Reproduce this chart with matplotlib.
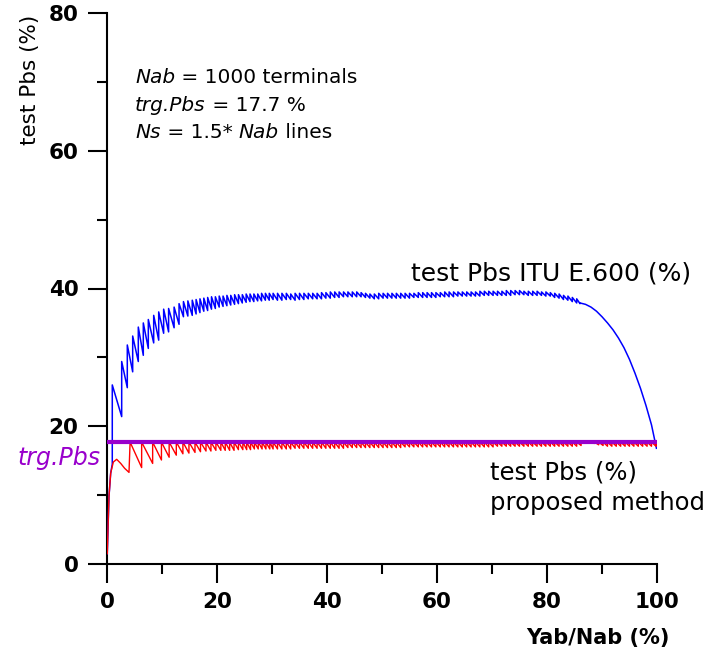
import matplotlib
matplotlib.use("Agg")
import matplotlib.pyplot as plt
from matplotlib.ticker import MultipleLocator

# ---------------- data ----------------
target_pbs = 17.7

# proposed method (red): initial rise, then saw-tooth that jumps back up to the target
red_start_x = [0.05, 0.36, 0.67, 1.15, 1.76, 2.5, 3.2, 4.0]
red_start_y = [1.5, 9.8, 13.2, 14.8, 15.2, 14.6, 13.9, 13.3]
red_jump_x = [4.2, 6.3, 8.3, 9.9, 11.3, 12.6, 13.8, 14.9, 16.0, 17.0, 18.0, 18.9, 19.8,
              20.7, 21.5, 22.3, 23.1, 23.9, 24.7, 25.4, 26.1, 26.8, 27.5, 28.2, 28.9, 29.6,
              30.2, 31.0, 31.8, 32.6, 33.4, 34.2, 35.0, 35.8, 36.6, 37.4, 38.2, 39.0, 39.8,
              40.6, 41.4, 42.2, 43.0, 43.8, 44.6, 45.4, 46.2, 47.0, 47.8, 48.6, 49.4,
              50.2, 51.0, 51.8, 52.6, 53.4, 54.2, 55.0, 55.8, 56.6, 57.4, 58.2, 59.0, 59.8,
              60.6, 61.4, 62.2, 63.0, 63.8, 64.6, 65.4, 66.2, 67.0, 67.8, 68.6, 69.4,
              70.2, 71.0, 71.8, 72.6, 73.4, 74.2, 75.0, 75.8, 76.6, 77.4, 78.2, 79.0, 79.8,
              80.6, 81.4, 82.2, 83.0, 83.8, 84.6, 85.4,
              86.2, 87.0, 87.8, 88.6, 89.4, 90.2, 91.0, 91.8, 92.6, 93.4, 94.2, 95.0, 95.8,
              96.6, 97.4, 98.2, 99.0, 99.8]
red_trough = [14.0, 14.6, 15.1, 15.5, 15.8, 16.0, 16.1, 16.2, 16.3, 16.4, 16.4, 16.5, 16.5,
              16.5, 16.5, 16.5, 16.6, 16.6, 16.6, 16.6, 16.7, 16.7, 16.7, 16.7, 16.7, 16.7,
              16.7, 16.7, 16.7, 16.7, 16.8, 16.8, 16.8, 16.8, 16.8, 16.8, 16.8, 16.8, 16.8,
              16.8, 16.8, 16.8, 16.9, 16.9, 16.9, 16.9, 16.9, 16.9, 16.9, 16.9, 16.9,
              16.9, 16.9, 16.9, 16.9, 17.0, 17.0, 17.0, 17.0, 17.0, 17.0, 17.0, 17.0, 17.0,
              17.0, 17.0, 17.0, 17.0, 17.0, 17.0, 17.0, 17.0, 17.0, 17.0, 17.0, 17.0,
              17.1, 17.1, 17.1, 17.1, 17.1, 17.1, 17.1, 17.1, 17.1, 17.1, 17.1, 17.1, 17.1,
              17.1, 17.1, 17.1, 17.1, 17.1, 17.1, 17.2,
              17.6, 17.6, 17.5, 17.3, 17.2, 17.1, 17.1, 17.1, 17.1, 17.1, 17.1, 17.1, 17.1,
              17.1, 17.1, 17.1, 17.1, 17.2]

# ITU E.600 (blue)
blue_start_x = [0.05, 0.36, 0.67, 0.96]
blue_start_y = [1.5, 9.8, 13.2, 14.5]
blue_tooth_x = [0.96, 2.67, 3.69, 4.67, 5.69, 6.6, 7.51, 8.49, 9.4, 10.3, 11.2, 12.2, 13.1, 13.9,
                14.7, 15.5, 16.2, 16.9, 17.6, 18.3, 19.0, 19.7, 20.4, 21.1, 21.8, 22.5, 23.2,
                23.9, 24.6, 25.3, 26.0, 26.7, 27.4, 28.1, 28.8, 29.5,
                30.2, 31.0, 31.8, 32.6, 33.4, 34.2, 35.0, 35.8, 36.6, 37.4, 38.2, 39.0, 39.8,
                40.6, 41.4, 42.2, 43.0, 43.8, 44.6, 45.4, 46.2, 47.0, 47.8, 48.6, 49.4,
                50.2, 51.0, 51.8, 52.6, 53.4, 54.2, 55.0, 55.8, 56.6, 57.4, 58.2, 59.0, 59.8,
                60.6, 61.4, 62.2, 63.0, 63.8, 64.6, 65.4, 66.2, 67.0, 67.8, 68.6, 69.4,
                70.2, 71.0, 71.8, 72.6, 73.4, 74.2, 75.0, 75.8, 76.6, 77.4, 78.2, 79.0, 79.8,
                80.6, 81.4, 82.2, 83.0, 83.8, 84.6, 85.4]
blue_hi = [26.0, 29.4, 31.8, 33.1, 34.4, 35.0, 35.5, 36.1, 36.6, 37.0, 37.1, 37.3, 37.8, 38.1,
           38.2, 38.3, 38.4, 38.5, 38.6, 38.7, 38.8, 38.8, 38.9, 38.9, 39.0, 39.0, 39.1,
           39.1, 39.1, 39.2, 39.2, 39.2, 39.2, 39.3, 39.3, 39.3,
           39.3, 39.3, 39.3, 39.3, 39.2, 39.3, 39.3, 39.3, 39.3, 39.3, 39.3, 39.4, 39.4,
           39.5, 39.5, 39.5, 39.5, 39.5, 39.5, 39.5, 39.4, 39.3, 39.2, 39.2, 39.3,
           39.3, 39.3, 39.3, 39.3, 39.3, 39.3, 39.3, 39.3, 39.4, 39.4, 39.4, 39.4, 39.4,
           39.4, 39.5, 39.5, 39.5, 39.5, 39.5, 39.5, 39.5, 39.5, 39.6, 39.6, 39.6,
           39.6, 39.6, 39.6, 39.7, 39.7, 39.7, 39.7, 39.6, 39.6, 39.6, 39.6, 39.5, 39.5,
           39.4, 39.3, 39.2, 39.0, 38.9, 38.7, 38.5]
blue_lo = [21.4, 25.6, 27.9, 29.4, 30.3, 31.3, 32.1, 32.5, 33.5, 33.7, 34.3, 34.8, 35.9, 36.0,
           36.1, 36.3, 36.5, 36.7, 36.8, 37.0, 37.1, 37.3, 37.4, 37.5, 37.6, 37.7, 37.8,
           37.9, 38.0, 38.1, 38.1, 38.2, 38.2, 38.3, 38.3, 38.4,
           38.3, 38.3, 38.4, 38.4, 38.3, 38.4, 38.4, 38.5, 38.5, 38.5, 38.5, 38.6, 38.6,
           38.7, 38.7, 38.8, 38.8, 38.8, 38.8, 38.8, 38.7, 38.6, 38.5, 38.5, 38.6,
           38.6, 38.6, 38.6, 38.6, 38.6, 38.6, 38.7, 38.7, 38.7, 38.7, 38.7, 38.7, 38.8,
           38.8, 38.8, 38.8, 38.9, 38.9, 38.9, 38.9, 38.9, 38.9, 39.0, 39.0, 39.0,
           39.0, 39.0, 39.0, 39.0, 39.1, 39.1, 39.1, 39.0, 39.0, 39.0, 39.0, 38.9, 38.9,
           38.7, 38.6, 38.4, 38.3, 38.1, 37.9, 37.8]
blue_tail_x = [86.0, 87.0, 88.0, 89.0, 90.0, 91.0, 92.0, 93.0, 94.0, 95.0, 96.0, 97.0, 98.0, 99.0, 99.9]
blue_tail_y = [37.9, 37.7, 37.3, 36.7, 35.9, 35.0, 34.0, 32.8, 31.4, 29.7, 27.7, 25.5, 23.0, 20.2, 16.8]

x_ticks = [0, 20, 40, 60, 80, 100]
y_ticks = [0, 20, 40, 60, 80]

# ---------------- build saw-tooth paths from the data ----------------
red_x = list(red_start_x)
red_y = list(red_start_y)
for i, jx in enumerate(red_jump_x):
    nxt = red_jump_x[i + 1] if i + 1 < len(red_jump_x) else 100.0
    red_x += [jx, nxt]
    red_y += [target_pbs, red_trough[i]]

blue_x = list(blue_start_x)
blue_y = list(blue_start_y)
for i, tx in enumerate(blue_tooth_x):
    nxt = blue_tooth_x[i + 1] if i + 1 < len(blue_tooth_x) else blue_tail_x[0]
    blue_x += [tx, nxt]
    blue_y += [blue_hi[i], blue_lo[i]]
blue_x += blue_tail_x
blue_y += blue_tail_y

# ---------------- figure ----------------
plt.rcParams['font.family'] = ['DejaVu Sans']

fig = plt.figure(figsize=(7.07, 6.59), dpi=100)
ax = fig.add_axes([107 / 707, 1 - 564 / 659, 550 / 707, 551 / 659])

ax.plot(blue_x, blue_y, color='#0000FF', lw=1.1, zorder=3)
ax.plot(red_x, red_y, color='#FF0000', lw=1.0, zorder=4)
ax.plot([0, 100], [target_pbs, target_pbs], color='#9900CC', lw=3.0, zorder=5,
        solid_capstyle='butt')

ax.set_xlim(0, 100)
ax.set_ylim(0, 80)
ax.set_xticks(x_ticks)
ax.set_yticks(y_ticks)
ax.xaxis.set_minor_locator(MultipleLocator(10))
ax.yaxis.set_minor_locator(MultipleLocator(10))
for s in ['top', 'right']:
    ax.spines[s].set_visible(False)
for s in ['left', 'bottom']:
    ax.spines[s].set_linewidth(1.5)
ax.tick_params(which='major', direction='out', length=13.5, width=1.5, pad=7,
               labelsize=15.5)
ax.tick_params(which='minor', direction='out', length=7, width=1.5)
for lab in ax.get_xticklabels() + ax.get_yticklabels():
    lab.set_fontweight('bold')

# axis titles
fig.text(30 / 707, 1 - 80 / 659, 'test Pbs (%)', rotation=90, ha='center', va='center',
         fontsize=15.5)
fig.text(670 / 707, 1 - 644 / 659, 'Yab/Nab (%)', ha='right', va='baseline',
         fontsize=15, fontweight='bold')


# annotations: chains of italic / upright pieces
def chain(x, y, pieces, size=14.5):
    prev = None
    for txt, st in pieces:
        if prev is None:
            prev = ax.text(x, y, txt, fontsize=size, style=st, va='baseline')
        else:
            prev = ax.annotate(txt, xy=(1, 0), xycoords=prev, fontsize=size, style=st,
                               ha='left', va='bottom')


chain(5.1, 69.8, [('Nab', 'italic'), (' = 1000 terminals', 'normal')])
chain(5.1, 65.75, [('trg.Pbs', 'italic'), (' = 17.7 %', 'normal')])
chain(5.1, 61.8, [('Ns', 'italic'), (' = 1.5* ', 'normal'), ('Nab', 'italic'),
                  (' lines', 'normal')])

ax.text(55.3, 41.2, 'test Pbs ITU E.600 (%)', fontsize=18, va='baseline')
ax.text(69.6, 12.2, 'test Pbs (%)', fontsize=17.5, va='baseline', clip_on=False)
ax.text(69.6, 7.8, 'proposed method', fontsize=17.5, va='baseline', clip_on=False)
ax.text(-16.2, 14.4, 'trg.Pbs', fontsize=17, style='italic', color='#9900CC',
        va='baseline', clip_on=False)

fig.savefig('out.png', dpi=100)
